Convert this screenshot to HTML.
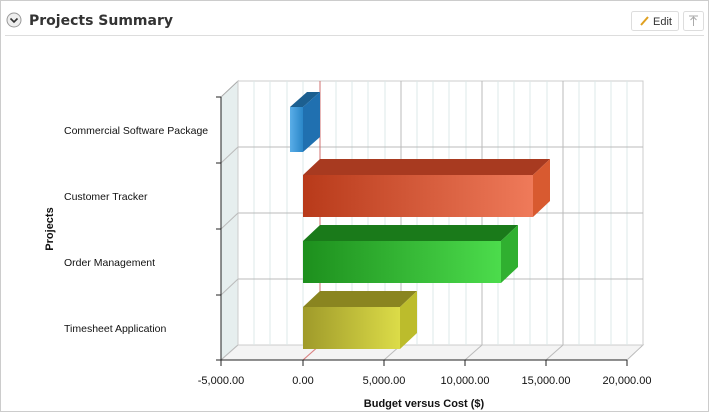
<!DOCTYPE html>
<html><head><style>
body{margin:0;width:709px;height:412px;overflow:hidden;background:#fff;font-family:"Liberation Sans",sans-serif}
</style></head><body>
<svg width="709" height="412" xmlns="http://www.w3.org/2000/svg" font-family="Liberation Sans, sans-serif">
<defs>
<linearGradient id="r" x1="0" x2="1"><stop offset="0" stop-color="#b83a1a"/><stop offset="1" stop-color="#ef7a5a"/></linearGradient>
<linearGradient id="g" x1="0" x2="1"><stop offset="0" stop-color="#1d8f1d"/><stop offset="1" stop-color="#4cdc4c"/></linearGradient>
<linearGradient id="y" x1="0" x2="1"><stop offset="0" stop-color="#9f9a2a"/><stop offset="1" stop-color="#dcdc48"/></linearGradient>
<linearGradient id="b" x1="0" x2="1"><stop offset="0" stop-color="#5aaee8"/><stop offset="1" stop-color="#2a86c8"/></linearGradient>
</defs>
<rect x="0.5" y="0.5" width="708" height="411" fill="#fff" stroke="#ccc"/>
<circle cx="14" cy="20" r="7" fill="#eee" stroke="#999"/>
<path d="M10.5 18.5 L14 22 L17.5 18.5" fill="none" stroke="#333" stroke-width="1.6"/>
<text x="29" y="25" font-size="14" font-weight="bold" fill="#333" font-family="DejaVu Sans, sans-serif">Projects Summary</text>
<rect x="631.5" y="11.5" width="47" height="19" rx="2" fill="#fff" stroke="#ddd"/>
<text x="653" y="25" font-size="11" fill="#333">Edit</text>
<path d="M641 25 L648 17" stroke="#e0a020" stroke-width="2"/>
<rect x="683.5" y="11.5" width="20" height="19" rx="2" fill="#fff" stroke="#ddd"/>
<path d="M689 16 H698 M693.5 17 V26 M690.5 20 L693.5 17 L696.5 20" stroke="#aaa" fill="none"/>
<line x1="5" y1="35.5" x2="704" y2="35.5" stroke="#ddd"/>
<polygon points="221,97 238,81 238,345 221,360" fill="#e6eeee" stroke="#aaa"/>
<polygon points="221,360 238,345 643,345 627,360" fill="#f4f4f4" stroke="#bbb"/>
<rect x="238" y="81" width="405" height="264" fill="#fff" stroke="#ccc"/>
<g stroke="#dde8e8">
<line x1="254" y1="81" x2="254" y2="345"/><line x1="270" y1="81" x2="270" y2="345"/><line x1="287" y1="81" x2="287" y2="345"/><line x1="303" y1="81" x2="303" y2="345"/>
<line x1="336" y1="81" x2="336" y2="345"/><line x1="352" y1="81" x2="352" y2="345"/><line x1="368" y1="81" x2="368" y2="345"/><line x1="385" y1="81" x2="385" y2="345"/>
<line x1="417" y1="81" x2="417" y2="345"/><line x1="433" y1="81" x2="433" y2="345"/><line x1="449" y1="81" x2="449" y2="345"/><line x1="466" y1="81" x2="466" y2="345"/>
<line x1="498" y1="81" x2="498" y2="345"/><line x1="514" y1="81" x2="514" y2="345"/><line x1="530" y1="81" x2="530" y2="345"/><line x1="547" y1="81" x2="547" y2="345"/>
<line x1="579" y1="81" x2="579" y2="345"/><line x1="595" y1="81" x2="595" y2="345"/><line x1="611" y1="81" x2="611" y2="345"/><line x1="627" y1="81" x2="627" y2="345"/>
</g>
<g stroke="#bbb">
<line x1="401" y1="81" x2="401" y2="345"/><line x1="482" y1="81" x2="482" y2="345"/><line x1="563" y1="81" x2="563" y2="345"/>
<line x1="238" y1="147" x2="643" y2="147"/><line x1="238" y1="213" x2="643" y2="213"/><line x1="238" y1="279" x2="643" y2="279"/>
<line x1="221" y1="163" x2="238" y2="147"/><line x1="221" y1="229" x2="238" y2="213"/><line x1="221" y1="295" x2="238" y2="279"/>
<line x1="303" y1="360" x2="320" y2="345"/><line x1="384" y1="360" x2="401" y2="345"/><line x1="465" y1="360" x2="482" y2="345"/><line x1="546" y1="360" x2="563" y2="345"/>
</g>
<line x1="320" y1="81" x2="320" y2="345" stroke="#d07070"/>
<line x1="303" y1="360" x2="320" y2="345" stroke="#e08080"/>
<polygon points="290,107 307,92 320,92 303,107" fill="#1c5f90"/>
<polygon points="303,107 320,92 320,137 303,152" fill="#2070b0"/>
<rect x="290" y="107" width="13" height="45" fill="url(#b)"/>
<polygon points="303,175 320,159 550,159 533,175" fill="#a83a20"/>
<polygon points="533,175 550,159 550,201 533,217" fill="#d85a30"/>
<rect x="303" y="175" width="230" height="42" fill="url(#r)"/>
<polygon points="303,241 320,225 518,225 501,241" fill="#1a7a1a"/>
<polygon points="501,241 518,225 518,267 501,283" fill="#30b030"/>
<rect x="303" y="241" width="198" height="42" fill="url(#g)"/>
<polygon points="303,307 320,291 417,291 400,307" fill="#8a8520"/>
<polygon points="400,307 417,291 417,333 400,349" fill="#bcbc2c"/>
<rect x="303" y="307" width="97" height="42" fill="url(#y)"/>
<g stroke="#222">
<line x1="221" y1="97" x2="221" y2="360"/><line x1="221" y1="360" x2="627" y2="360"/>
<line x1="216" y1="97" x2="221" y2="97"/><line x1="216" y1="163" x2="221" y2="163"/><line x1="216" y1="229" x2="221" y2="229"/><line x1="216" y1="295" x2="221" y2="295"/><line x1="216" y1="360" x2="221" y2="360"/>
<line x1="221" y1="360" x2="221" y2="366"/><line x1="303" y1="360" x2="303" y2="366"/><line x1="384" y1="360" x2="384" y2="366"/><line x1="465" y1="360" x2="465" y2="366"/><line x1="546" y1="360" x2="546" y2="366"/><line x1="627" y1="360" x2="627" y2="366"/>
</g>
<g font-size="11" fill="#111">
<g font-size="10.5">
<text x="64" y="134">Commercial Software Package</text>
<text x="64" y="200">Customer Tracker</text>
<text x="64" y="266">Order Management</text>
<text x="64" y="332">Timesheet Application</text>
</g>
<g text-anchor="middle">
<text x="221" y="384">-5,000.00</text><text x="303" y="384">0.00</text><text x="384" y="384">5,000.00</text><text x="465" y="384">10,000.00</text><text x="546" y="384">15,000.00</text><text x="627" y="384">20,000.00</text>
<text x="424" y="407" font-weight="bold">Budget versus Cost ($)</text>
<text transform="translate(53,229) rotate(-90)" font-weight="bold">Projects</text>
</g></g>
</svg>
</body></html>
